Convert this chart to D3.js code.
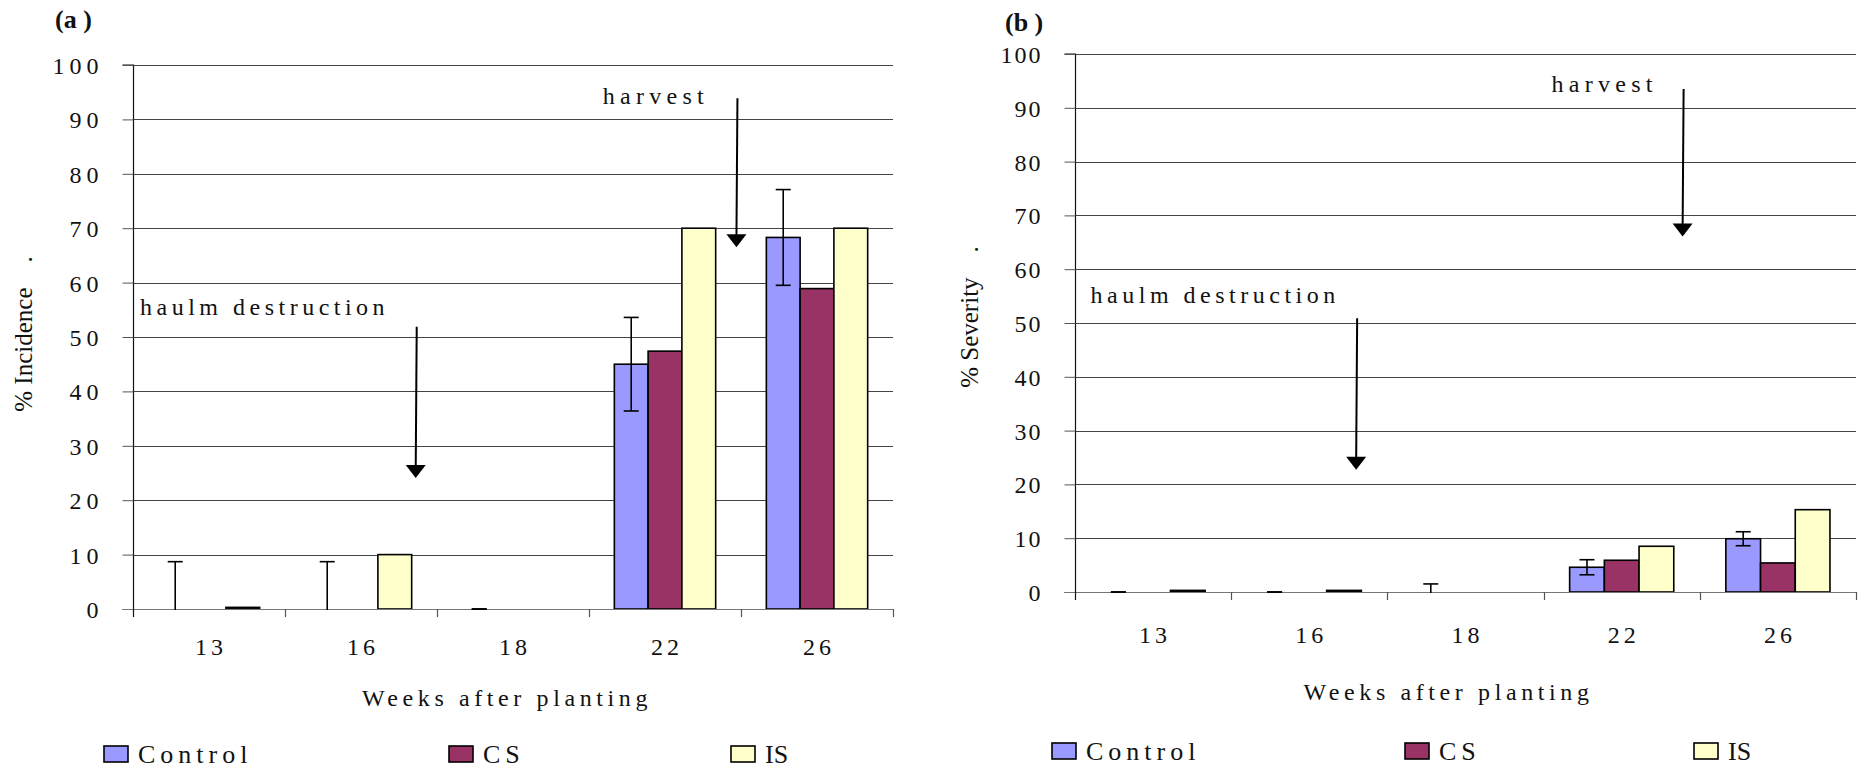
<!DOCTYPE html>
<html>
<head>
<meta charset="utf-8">
<script src="https://cdn.jsdelivr.net/npm/d3@7"></script>
<style>
  html, body { margin: 0; padding: 0; background: #fff; }
  svg { display: block; }
  text { font-family: "Liberation Serif", "Times New Roman", serif; fill: #111; white-space: pre; }
</style>
</head>
<body>
<svg id="chart" width="1863" height="769"></svg>
<script>
// ---------- data ----------
const categories = ["13", "16", "18", "22", "26"];
const seriesNames = ["Control", "CS", "IS"];
const seriesColors = ["#9999FF", "#993366", "#FFFFCC"];
const yTicks = [0, 10, 20, 30, 40, 50, 60, 70, 80, 90, 100];

// (a) % Incidence
const incidenceControl = [0, 0, 0, 45.0, 68.3];
const incidenceControlErr = [8.7, 8.7, 0, 8.6, 8.8];
const incidenceCS = [0, 0, 0, 47.4, 58.9];
const incidenceIS = [0.3, 10.0, 0, 70.0, 70.0];

// (b) % Severity
const severityControl = [0, 0, 0, 4.6, 9.9];
const severityControlErr = [0, 0, 1.5, 1.4, 1.3];
const severityCS = [0, 0, 0, 5.9, 5.4];
const severityIS = [0.3, 0.3, 0, 8.5, 15.3];

// annotations (category, fraction across category, y of arrow top, y of arrow tip, label y, label category + fraction)
const incidenceNotes = [
  { label: "haulm destruction", cat: "16", frac: 0.86, yTop: 51.9, yTip: 24.1, labelCat: "13", labelFrac: 0.046, labelY: 54.0 },
  { label: "harvest", cat: "22", frac: 0.97, yTop: 93.9, yTip: 66.5, labelCat: "22", labelFrac: 0.09, labelY: 92.8 }
];
const severityNotes = [
  { label: "haulm destruction", cat: "16", frac: 0.80, yTop: 50.9, yTip: 22.7, labelCat: "13", labelFrac: 0.10, labelY: 53.7 },
  { label: "harvest", cat: "22", frac: 0.89, yTop: 93.5, yTip: 66.1, labelCat: "22", labelFrac: 0.05, labelY: 93.0 }
];

// ---------- drawing ----------
const svg = d3.select("#chart");

function drawPanel(o) {
  const g = svg.append("g");
  const x = d3.scaleBand().domain(categories).range([o.left, o.right]).paddingInner(0).paddingOuter(0);
  const bw = x.bandwidth();
  const x1 = d3.scaleBand().domain(seriesNames).range([bw / 6, bw * 5 / 6]).padding(0);
  const y = d3.scaleLinear().domain([0, 100]).range([o.bottom, o.top]);

  // gridlines
  g.append("g").selectAll("line").data(yTicks.filter(d => d > 0)).join("line")
    .attr("x1", o.left).attr("x2", o.right)
    .attr("y1", d => Math.round(y(d)) + 0.5).attr("y2", d => Math.round(y(d)) + 0.5)
    .attr("stroke", "#444").attr("stroke-width", 1);

  // y axis
  const yAxis = d3.axisLeft(y).tickValues(yTicks).tickSize(11).tickFormat(d3.format("d"));
  const ya = g.append("g").attr("transform", `translate(${o.left + 0.5},0)`).call(yAxis);
  ya.attr("font-family", null);
  ya.select(".domain").attr("stroke", "#111").attr("stroke-width", 1.2).attr("d", `M-11,${o.top}H0V${o.bottom}`);
  ya.selectAll(".tick line").attr("stroke", "#555");
  ya.selectAll(".tick text")
    .attr("x", o.tickLabelX).attr("dy", "0.35em")
    .style("font-family", '"Liberation Serif", "Times New Roman", serif')
    .style("font-size", "24px").style("letter-spacing", o.tickLs + "px").attr("fill", "#111");

  // bars
  const series = [
    { name: "Control", values: o.control },
    { name: "CS", values: o.cs },
    { name: "IS", values: o.is }
  ];
  series.forEach((s, si) => {
    g.append("g").selectAll("rect").data(categories.map((c, i) => ({ c, v: s.values[i] }))).join("rect")
      .attr("x", d => x(d.c) + x1(s.name))
      .attr("y", d => y(d.v))
      .attr("width", x1.bandwidth())
      .attr("height", d => y(0) - y(d.v))
      .attr("fill", seriesColors[si])
      .attr("stroke", "#000").attr("stroke-width", 1.6);
  });

  // x axis (baseline + category ticks)
  const xa = g.append("g");
  xa.append("line").attr("x1", o.left - 11).attr("x2", o.right)
    .attr("y1", Math.round(y(0)) + 0.5).attr("y2", Math.round(y(0)) + 0.5)
    .attr("stroke", "#777").attr("stroke-width", 1.2);
  const bounds = categories.map(c => x(c)).concat([o.right]);
  xa.selectAll("line.t").data(bounds).join("line").attr("class", "t")
    .attr("x1", d => Math.round(d) + 0.5).attr("x2", d => Math.round(d) + 0.5)
    .attr("y1", y(0)).attr("y2", y(0) + 8)
    .attr("stroke", d => d === bounds[0] ? "#111" : "#555").attr("stroke-width", 1.2);
  xa.selectAll("text").data(categories).join("text")
    .attr("x", d => x(d) + bw / 2 + o.catLs / 2)
    .attr("y", y(0) + o.catDy)
    .attr("text-anchor", "middle")
    .style("font-size", "24px").style("letter-spacing", o.catLs + "px")
    .text(d => d);

  // error bars (Control only), clipped to plot
  const clipId = "clip" + o.id;
  svg.append("clipPath").attr("id", clipId).append("rect")
    .attr("x", o.left).attr("y", o.top - 20).attr("width", o.right - o.left).attr("height", o.bottom - o.top + 21);
  const eg = g.append("g").attr("clip-path", `url(#${clipId})`);
  const errData = categories.map((c, i) => ({ c, v: o.control[i], e: o.controlErr[i] }));
  const cx = d => x(d.c) + x1("Control") + x1.bandwidth() / 2;
  eg.selectAll("line.v").data(errData).join("line").attr("class", "v")
    .attr("x1", cx).attr("x2", cx)
    .attr("y1", d => y(d.v + d.e)).attr("y2", d => y(d.v - d.e))
    .attr("stroke", "#000").attr("stroke-width", 1.6);
  eg.selectAll("line.cu").data(errData).join("line").attr("class", "cu")
    .attr("x1", d => cx(d) - 7.5).attr("x2", d => cx(d) + 7.5)
    .attr("y1", d => y(d.v + d.e)).attr("y2", d => y(d.v + d.e))
    .attr("stroke", "#000").attr("stroke-width", 1.6);
  eg.selectAll("line.cl").data(errData).join("line").attr("class", "cl")
    .attr("x1", d => cx(d) - 7.5).attr("x2", d => cx(d) + 7.5)
    .attr("y1", d => y(d.v - d.e)).attr("y2", d => y(d.v - d.e))
    .attr("stroke", "#000").attr("stroke-width", 1.6);

  // annotations
  o.notes.forEach(n => {
    const ax = x(n.cat) + bw * n.frac;
    const yTop = y(n.yTop), yTip = y(n.yTip);
    g.append("line").attr("x1", ax + 1).attr("x2", ax)
      .attr("y1", yTop).attr("y2", yTip - 10)
      .attr("stroke", "#000").attr("stroke-width", 2);
    g.append("path")
      .attr("d", `M${ax - 10},${yTip - 13}L${ax + 10},${yTip - 13}L${ax},${yTip}Z`)
      .attr("fill", "#000");
    g.append("text")
      .attr("x", x(n.labelCat) + bw * n.labelFrac)
      .attr("y", y(n.labelY))
      .style("font-size", "24px").style("letter-spacing", n.label === "harvest" ? "5.3px" : "4.5px")
      .text(n.label);
  });

  // panel label
  g.append("text").attr("x", o.labelX).attr("y", o.labelY)
    .style("font-size", "26px").style("font-weight", "bold").text(o.panelLabel);

  // y title
  g.append("text")
    .attr("transform", `translate(${o.yTitleX},${o.yTitleY}) rotate(-90)`)
    .attr("text-anchor", "middle")
    .style("font-size", "25px")
    .text(o.yTitle);

  // x title
  g.append("text")
    .attr("x", (o.left + o.right) / 2 + o.xTitleDx)
    .attr("y", o.xTitleY)
    .attr("text-anchor", "middle")
    .style("font-size", "24px").style("letter-spacing", "4.6px")
    .text("Weeks after planting");

  // legend
  seriesNames.forEach((s, i) => {
    g.append("rect").attr("x", o.legendX[i]).attr("y", o.legendY)
      .attr("width", 24).attr("height", 16)
      .attr("fill", seriesColors[i]).attr("stroke", "#000").attr("stroke-width", 1.6);
    g.append("text").attr("x", o.legendX[i] + 34).attr("y", o.legendY + 17)
      .style("font-size", "26px").style("letter-spacing", s === "IS" ? "0px" : "5px")
      .text(s);
  });
}

drawPanel({
  id: "a", left: 133, right: 893, top: 65, bottom: 609,
  control: incidenceControl, controlErr: incidenceControlErr, cs: incidenceCS, is: incidenceIS,
  notes: incidenceNotes, tickLabelX: -30, tickLs: 5, catLs: 4, catDy: 46,
  panelLabel: "(a )", labelX: 55, labelY: 28,
  yTitle: "% Incidence    .", yTitleX: 32, yTitleY: 334,
  xTitleY: 706, xTitleDx: -6,
  legendX: [104, 449, 731], legendY: 746
});

drawPanel({
  id: "b", left: 1075, right: 1856, top: 54, bottom: 592,
  control: severityControl, controlErr: severityControlErr, cs: severityCS, is: severityIS,
  notes: severityNotes, tickLabelX: -33, tickLs: 2, catLs: 4, catDy: 51,
  panelLabel: "(b )", labelX: 1005, labelY: 31,
  yTitle: "% Severity    .", yTitleX: 978, yTitleY: 317,
  xTitleY: 700, xTitleDx: -17,
  legendX: [1052, 1405, 1694], legendY: 743
});
</script>
</body>
</html>
